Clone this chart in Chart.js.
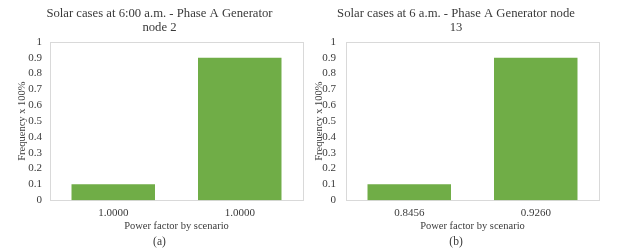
<!DOCTYPE html>
<html>
<head>
<meta charset="utf-8">
<script src="https://cdn.jsdelivr.net/npm/chart.js@4.4.0/dist/chart.umd.min.js"></script>
<style>
  body { margin: 0; background: #fff; }
  .wrap { position: relative; width: 623px; height: 250px; }
  .box { position: absolute; top: 0; height: 250px; }
</style>
</head>
<body>
<div class="wrap">
  <div class="box" style="left:0;width:311px;"><canvas id="chart-a"></canvas></div>
  <div class="box" style="left:311px;width:312px;"><canvas id="chart-b"></canvas></div>
</div>
<script>
// data
const titlesA = ['Solar cases at 6:00 a.m. - Phase A Generator', 'node 2'];
const titlesB = ['Solar cases at 6 a.m. - Phase A Generator node', '13'];
const labelsA = ['1.0000', '1.0000'];
const labelsB = ['0.8456', '0.9260'];
const valuesA = [0.1, 0.9];
const valuesB = [0.1, 0.9];
const yTicks = [0, 0.1, 0.2, 0.3, 0.4, 0.5, 0.6, 0.7, 0.8, 0.9, 1];

const FONT = "'Liberation Serif', serif";
const TEXT = '#3a3a3a';

// light gray frame round the plot area
const frame = {
    id: 'frame',
    beforeDatasetsDraw(chart) {
        const a = chart.chartArea;
        const c = chart.ctx;
        c.save();
        c.strokeStyle = '#d9d9d9';
        c.lineWidth = 1;
        c.strokeRect(Math.round(a.left) + 0.5, Math.round(a.top) + 0.5,
            Math.round(a.right - a.left), Math.round(a.bottom - a.top));
        c.restore();
    }
};

function makeChart(id, title, labels, values, sub, pad, yWidth, yPad) {
    return new Chart(document.getElementById(id), {
        type: 'bar',
        data: {
            labels: labels,
            datasets: [{
                data: values,
                backgroundColor: '#70ad47',
                borderWidth: 0,
                categoryPercentage: 1,
                barPercentage: 0.66
            }]
        },
        options: {
            responsive: true,
            maintainAspectRatio: false,
            animation: false,
            layout: { padding: pad },
            scales: {
                y: {
                    min: 0, max: 1,
                    afterBuildTicks: (s) => { s.ticks = yTicks.map(v => ({ value: v })); },
                    afterFit: (s) => { s.width = yWidth; },
                    grid: { display: false, drawTicks: false },
                    border: { display: false },
                    ticks: { color: TEXT, font: { family: FONT, size: 11 }, padding: yPad,
                        autoSkip: false, callback: (v) => String(v) },
                    title: { display: true, text: 'Frequency x 100%', color: TEXT,
                        font: { family: FONT, size: 10.5 }, padding: 0 }
                },
                x: {
                    afterFit: (s) => { s.height = 35; },
                    grid: { display: false, drawTicks: false },
                    border: { display: false },
                    ticks: { color: TEXT, font: { family: FONT, size: 11 }, padding: 6 },
                    title: { display: true, text: 'Power factor by scenario', color: TEXT,
                        font: { family: FONT, size: 10.5 }, padding: { top: 2, bottom: 3 } }
                }
            },
            plugins: {
                legend: { display: false },
                tooltip: { enabled: false },
                title: {
                    display: true, text: title, color: TEXT,
                    font: { family: FONT, size: 12.7, weight: 'normal', lineHeight: 1.1 },
                    padding: { top: 7, bottom: 7 }
                },
                subtitle: {
                    display: true, text: sub, position: 'bottom', color: TEXT,
                    font: { family: FONT, size: 11.5 }, padding: { top: 0, bottom: 1 }
                }
            }
        },
        plugins: [frame]
    });
}

makeChart('chart-a', titlesA, labelsA, valuesA, '(a)', { left: 16, right: 8, top: 0, bottom: 0 }, 34, 8);
makeChart('chart-b', titlesB, labelsB, valuesB, '(b)', { left: 2, right: 24, top: 0, bottom: 0 }, 33, 10);
</script>
</body>
</html>
